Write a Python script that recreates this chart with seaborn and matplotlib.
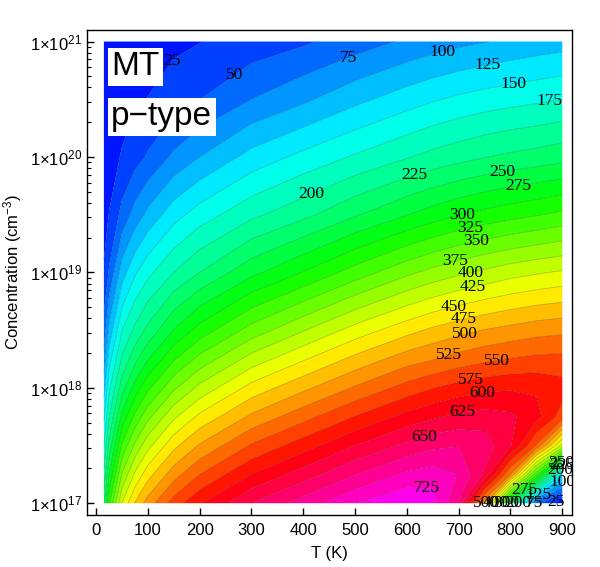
import colorsys
import matplotlib
matplotlib.use("Agg")
import matplotlib.pyplot as plt
import numpy as np
import pandas as pd
import seaborn as sns

# ---------------- data ----------------
temperature_K = [15, 25, 50, 75, 100, 150, 200, 300, 400, 500, 600, 650, 700, 750, 800, 850, 900]
log10_concentration = [17.0, 17.25, 17.5, 17.75, 18.0, 18.25, 18.5, 19.0, 19.5, 20.0, 20.5, 21.0]

# Seebeck coefficient (uV/K), one row per concentration, one value per temperature
seebeck_n17_00 = [243, 320, 426, 477, 512, 562, 597, 650, 687, 724, 749, 738, 673, 508, 257, 60, 3.5]
seebeck_n17_25 = [207, 274, 377, 429, 465, 514, 550, 600, 637, 674, 705, 712, 699, 646, 525, 334, 137]
seebeck_n17_50 = [176, 233, 329, 380, 417, 468, 503, 553, 588, 625, 656, 669, 674, 664, 627, 548, 417]
seebeck_n17_75 = [146, 198, 282, 331, 368, 420, 456, 505, 541, 576, 608, 621, 631, 636, 630, 609, 563]
seebeck_n18_00 = [116, 169, 239, 285, 319, 370, 407, 459, 494, 528, 560, 574, 585, 593, 597, 596, 586]
seebeck_n18_25 = [86, 139, 204, 242, 273, 322, 358, 410, 447, 482, 513, 523, 535, 544, 551, 556, 557]
seebeck_n18_50 = [60, 107, 174, 206, 232, 276, 310, 360, 398, 435, 466, 480, 491, 501, 508, 515, 519]
seebeck_n19_00 = [27.5, 53, 113, 146, 168, 200, 225, 268, 301, 336, 369, 383, 395, 405, 415, 422, 428]
seebeck_n19_50 = [16, 25.7, 58, 85, 107, 140, 162, 194, 218, 247, 274, 287, 299, 308, 316, 323, 331]
seebeck_n20_00 = [9.5, 15.4, 27, 40, 53, 80, 100, 134, 157, 178, 198, 208, 216, 224, 230, 235, 241]
seebeck_n20_50 = [4.5, 8.7, 16, 20.7, 25.5, 37.5, 49.6, 75, 95, 118, 138, 147, 155, 161, 166, 170, 175]
seebeck_n21_00 = [2.0, 4.0, 9.2, 12.7, 15.3, 19.7, 24.2, 35, 46, 62, 79, 87, 93.5, 99, 105, 110, 114]

contour_levels = list(range(0, 775, 25))
x_tick_values = [0, 100, 200, 300, 400, 500, 600, 700, 800, 900]
y_tick_exponents = [17, 18, 19, 20, 21]

# contour labels: level and approximate place (T, log10 n)
label_levels = [25, 50, 75, 100, 125, 150, 175, 200, 225, 250, 275, 300, 325, 350,
                375, 400, 425, 450, 475, 500, 525, 550, 575, 600, 625, 650, 725,
                225, 200, 250, 100, 275, 125, 25, 500, 400, 300, 200, 75]
label_T = [154, 278, 490, 670, 757, 807, 874, 425, 619, 784, 815, 708, 724, 735,
           695, 724, 728, 693, 712, 714, 681, 772, 724, 745, 708, 635, 639,
           900, 872, 880, 905, 815, 847, 885, 735, 752, 770, 790, 835]
label_logn = [20.81, 20.64, 20.83, 20.90, 20.77, 20.61, 20.50, 19.57, 19.77, 19.87, 19.77, 19.47, 19.36, 19.26,
              19.06, 18.97, 18.85, 18.66, 18.56, 18.44, 18.27, 18.26, 18.07, 17.95, 17.77, 17.56, 17.11,
              17.49, 17.43, 17.45, 17.33, 17.18, 17.12, 17.04, 17.04, 17.04, 17.04, 17.04, 17.04]

# ---------------- styling ----------------
sns.set_theme(style="ticks", rc={
    "axes.linewidth": 1.0,
    "axes.edgecolor": "black",
    "xtick.direction": "in",
    "ytick.direction": "in",
    "xtick.color": "black",
    "ytick.color": "black",
    "text.color": "black",
    "axes.labelcolor": "black",
    "mathtext.fontset": "custom",
    "mathtext.rm": "Liberation Sans",
    "mathtext.it": "Liberation Sans:italic",
    "mathtext.bf": "Liberation Sans:bold",
})
plt.rcParams["font.family"] = ["Liberation Sans", "DejaVu Sans"]

grid = pd.DataFrame(
    [seebeck_n17_00, seebeck_n17_25, seebeck_n17_50, seebeck_n17_75, seebeck_n18_00,
     seebeck_n18_25, seebeck_n18_50, seebeck_n19_00, seebeck_n19_50, seebeck_n20_00,
     seebeck_n20_50, seebeck_n21_00],
    index=log10_concentration, columns=temperature_K)

# band colours: hue runs blue -> cyan -> green -> yellow -> red -> magenta
band_colors = []
for lo, hi in zip(contour_levels[:-1], contour_levels[1:]):
    mid = 0.5 * (lo + hi)
    hue = (240.0 - 300.0 * mid / 750.0) % 360.0
    band_colors.append(colorsys.hsv_to_rgb(hue / 360.0, 1.0, 1.0))

fig = plt.figure(figsize=(6.0, 5.67), dpi=100)
ax = fig.add_axes([0.1455, 0.0922, 0.8083, 0.8549])

TT, NN = np.meshgrid(grid.columns.values.astype(float), grid.index.values.astype(float))
ZZ = grid.values.astype(float)

ax.contourf(TT, NN, ZZ, levels=contour_levels, colors=band_colors, antialiased=True)
ax.contour(TT, NN, ZZ, levels=contour_levels[1:-1], colors="black",
           linewidths=0.45, alpha=0.3)

for lev, tx, ny in zip(label_levels, label_T, label_logn):
    single = ax.contour(TT, NN, ZZ, levels=[lev], colors="none", linewidths=0)
    texts = single.clabel(manual=[(tx, ny)], inline=False, fontsize=12.5,
                          colors="black", fmt="%d")
    for t in texts:
        t.set_rotation(0)
        t.set_fontfamily(["Liberation Serif", "DejaVu Serif"])
        t.set_alpha(1.0)
        t.set_color("black")
        t.set_clip_on(True)
        t.set_clip_box(ax.bbox)

ax.set_xlim(-17, 919.3)
ax.set_ylim(16.90, 21.10)

ax.set_xticks(x_tick_values)
ax.set_xticklabels([str(v) for v in x_tick_values])
ax.set_yticks(y_tick_exponents)
ax.set_yticklabels([r"$1{\times}10^{%d}$" % e for e in y_tick_exponents])
minor = [e + np.log10(k) for e in y_tick_exponents[:-1] for k in range(2, 10)]
ax.set_yticks(minor, minor=True)

ax.tick_params(axis="both", which="major", direction="in", length=5, width=1.0,
               labelsize=12, top=False, right=False)
ax.tick_params(axis="x", which="major", pad=6)
ax.tick_params(axis="y", which="major", pad=4)
ax.tick_params(axis="y", which="minor", direction="in", length=3, width=0.8,
               left=True, right=False)
ax.tick_params(axis="x", which="minor", bottom=False, top=False)

ax.set_xlabel("T (K)", fontsize=12, labelpad=6)
ax.set_ylabel(r"Concentration (cm$^{-3}$)", fontsize=12, labelpad=4)

box = dict(facecolor="white", edgecolor="none", boxstyle="square,pad=0.1")
ax.text(0.0495, 0.956, "MT", transform=ax.transAxes, ha="left", va="top",
        fontsize=24, color="black", bbox=box, zorder=6)
ax.text(0.0495, 0.853, "p\u2212type", transform=ax.transAxes, ha="left", va="top",
        fontsize=24, color="black", bbox=box, zorder=6)

fig.savefig("out.png", dpi=100)
